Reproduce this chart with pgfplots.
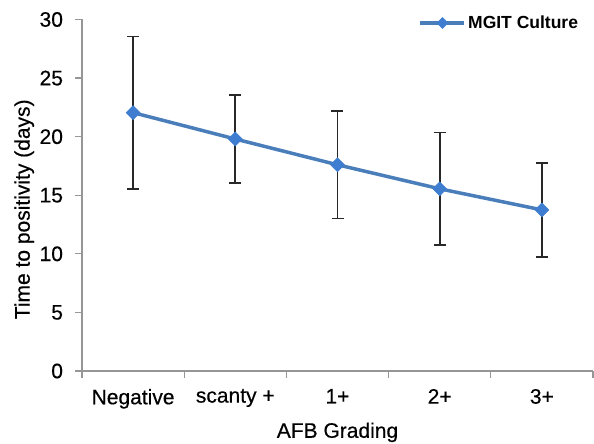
\documentclass[border=0pt]{standalone}
\usepackage{fontspec}
\setmainfont{Liberation Sans}
\newfontfamily\labfont{Liberation Sans}[FakeBold=0.4]
\usepackage{pgfplots}
\pgfplotsset{compat=1.18}
\definecolor{mline}{RGB}{74,126,187}
\definecolor{mmark}{RGB}{62,125,208}
\definecolor{axgray}{RGB}{150,150,150}
\definecolor{errc}{RGB}{40,40,40}
\begin{document}
\begin{tikzpicture}
\useasboundingbox (-82pt,-73pt) rectangle (512pt,371pt);
\begin{axis}[
  at={(0,0)}, anchor=south west,
  scale only axis, width=511pt, height=351.5pt,
  xmin=-0.5, xmax=4.5, ymin=0, ymax=30,
  axis x line*=bottom, axis y line*=left,
  axis line style={axgray, line width=1.2pt},
  xtick={-0.5,0.5,...,4.5}, x tick label as interval,
  xticklabels={Negative,scanty +,1+,2+,3+},
  ytick={0,5,...,30},
  tick align=outside, major tick length=6.5pt,
  tick style={axgray, line width=1.2pt},
  tick label style={font=\labfont\fontsize{21}{24}\selectfont},
  xticklabel style={yshift=-8pt},
  yticklabel style={xshift=-9pt},
  /pgf/number format/assume math mode=true,
  xlabel={AFB Grading}, ylabel={Time to positivity (days)},
  every axis x label/.style={at={(axis description cs:0.5,-0.19)}, anchor=base, font=\labfont\fontsize{21}{24}\selectfont},
  every axis y label/.style={at={(axis description cs:-0.113,0.46)}, rotate=90, anchor=center, font=\labfont\fontsize{21}{24}\selectfont},
  legend style={draw=none, fill=none, at={(rel axis cs:0.975,0.99)}, anchor=east,
    font=\fontsize{17.5}{20}\bfseries\selectfont, inner sep=0pt},
  legend image code/.code={\draw[#1, mark repeat=2, mark phase=2, mark size=5.5pt] plot coordinates {(0pt,0pt) (22pt,0pt) (44pt,0pt)};},
]
\addplot[draw=none, forget plot,
  error bars/.cd, y dir=both, y explicit, error mark=|,
  error bar style={line width=1.6pt, color=errc},
  error mark options={line width=1.6pt, mark size=6pt, color=errc}]
  coordinates {
  (0,22.05) +- (0,6.5)
  (1,19.8) +- (0,3.78)
  (2,17.6) +- (0,4.58)
  (3,15.55) +- (0,4.8)
  (4,13.75) +- (0,4.0)
  };
\addplot[mline, line width=3.5pt, mark=diamond*, mark size=7pt,
  mark options={fill=mmark, draw=mmark, line width=0.5pt, xscale=1.33}]
  coordinates {(0,22.05) (1,19.8) (2,17.6) (3,15.55) (4,13.75)};
\addlegendentry{MGIT Culture}
\end{axis}
\end{tikzpicture}
\end{document}
